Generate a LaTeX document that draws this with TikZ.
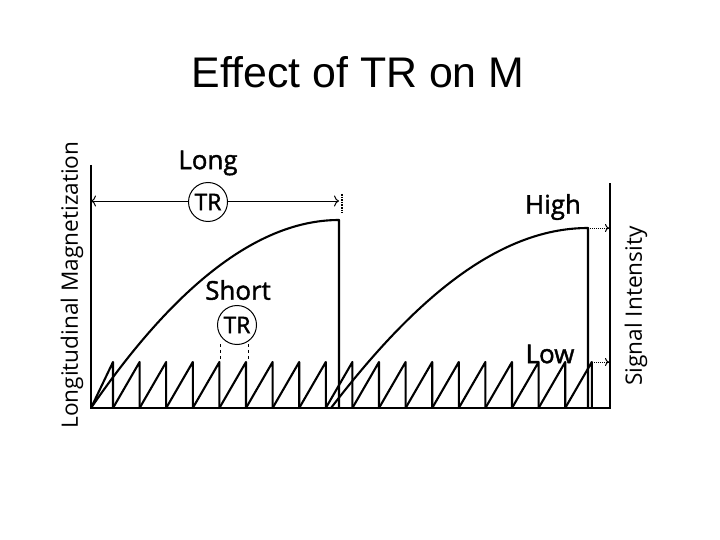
\documentclass[tikz,border=0pt]{standalone}
\usepackage{fontspec}
\setmainfont{Liberation Sans}
\newfontfamily\labelfont{Open Sans}
\newfontfamily\markfont[FakeBold=1.5]{Open Sans}
\usetikzlibrary{positioning, calc, arrows.meta}

\begin{document}
\begin{tikzpicture}[x=1bp, y=-1bp]

  \tikzset{curve/.style={line width=2.1pt, line join=round}}
  \tikzset{axis/.style={line width=2.4pt}}
  \tikzset{trmark/.style={circle, draw, line width=1pt, fill=white, minimum size=39bp, inner sep=0pt, font=\markfont\fontsize{23}{23}\selectfont}}
  \tikzset{word/.style={font=\markfont\fontsize{26}{26}\selectfont}}
  \tikzset{axlabel/.style={rotate=90, font=\labelfont\fontsize{22.7}{22.7}\selectfont}}
  \tikzset{dotptr/.style={densely dotted, line width=1pt, -{To[length=4bp, width=8bp]}}}

  \useasboundingbox[fill=white] (0, 0) rectangle (720, 540);

  % title
  \node (title) at (358, 72) {\fontsize{43}{50}\selectfont Effect of TR on M};

  % axes
  \coordinate (o) at (91, 408);
  \coordinate (ytop) at (91, 165);
  \coordinate (xend) at (610, 408);
  \coordinate (stop) at (610, 183);
  \draw[axis] (ytop) -- (o) -- (xend) -- (stop);
  \node[axlabel] (lm) at (72, 285) {Longitudinal Magnetization};
  \node[axlabel] (si) at (636, 306) {Signal Intensity};

  % long TR recovery curves
  \coordinate (p1) at (339, 220);
  \coordinate (p2) at (588, 228);
  \draw[curve] (o) .. controls (165, 300) and (250, 220) .. (p1) -- (339, 408);
  \draw[curve] (331, 408) .. controls (410, 305) and (495, 228) .. (p2) -- (588, 408);

  % short TR sawtooth
  \coordinate (t0) at (o);
  \foreach \k [count=\n from 1, remember=\n as \m (initially 0)] in {0,...,18} {
    \coordinate (t\n) at (113+26.6*\k, 408);
    \draw[curve] (t\m) -- ($(t\n)+(0, -46)$) -- (t\n);
  }

  % long TR span
  \node[word] (long) at (208, 163) {Long};
  \coordinate (lend) at (339, 201);
  \draw[line width=1pt, {To[length=5bp, width=11bp]}-{To[length=5bp, width=11bp]}] (91, 201) -- (lend);
  \draw[densely dotted, line width=1.6pt] (342, 194) -- (342, 213);
  \node[trmark] (trlong) at (208, 202) {TR};

  % short TR span
  \node[word] (short) at (238, 290) {Short};
  \node[trmark] (trshort) at (237, 325) {TR};
  \draw[dashed, line width=1pt] (220, 344) -- (220, 360);
  \draw[dashed, line width=1pt] (248, 344) -- (248, 360);

  % signal levels
  \node[word] (high) at (553, 207) {High};
  \node[word] (low) at (550, 354) {Low};
  \draw[dotptr] (p2) -- (609, 228);
  \draw[dotptr] ($(t19)+(0, -46)$) -- (609, 362);

\end{tikzpicture}
\end{document}
